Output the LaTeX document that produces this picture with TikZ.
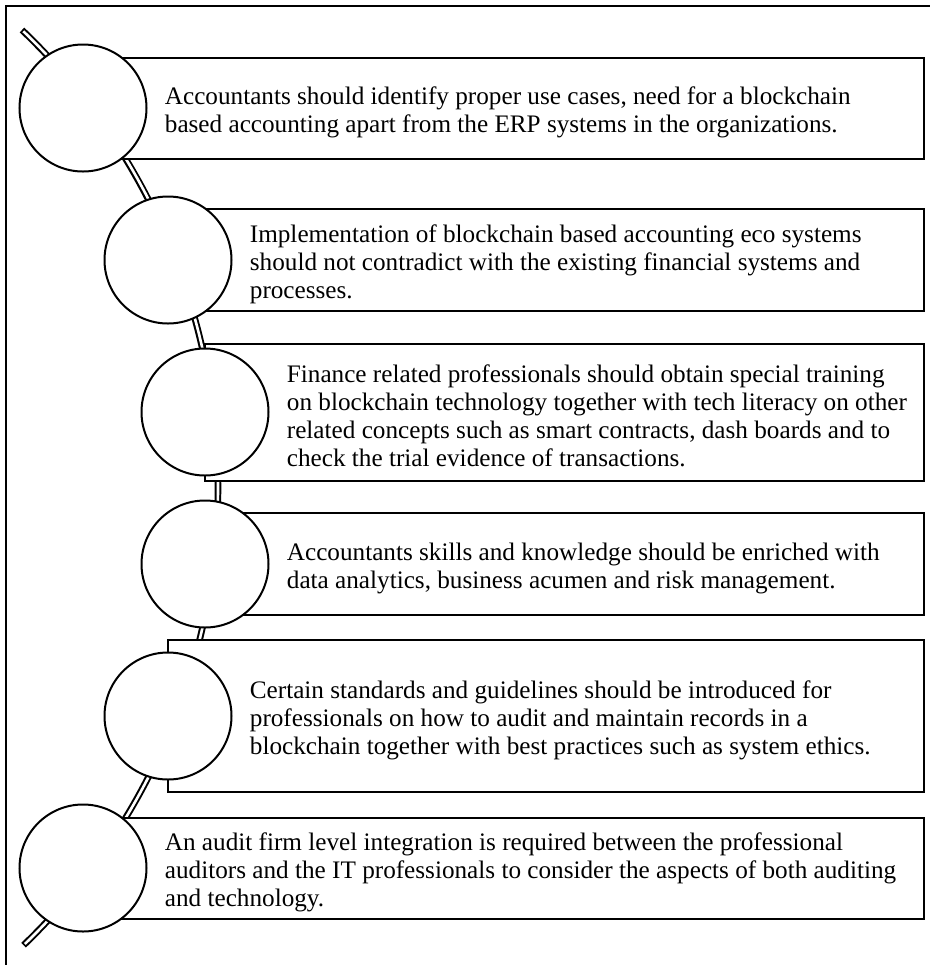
\documentclass[tikz,border=0pt]{standalone}
\usepackage{fontspec}
\setmainfont{Liberation Serif}
\usetikzlibrary{positioning, calc}
\tikzset{
  bead/.style={
    circle, draw=black, line width=1pt, fill=white,
    minimum size=63.5pt, inner sep=0pt, outer sep=0pt
  },
  panel/.style={
    rectangle, draw=black, line width=1pt, fill=white,
    anchor=west, inner sep=0pt, outer sep=0pt
  },
  note/.style={
    anchor=west, align=left, inner sep=0pt, yshift=-2pt,
    font=\fontsize{12.6pt}{14pt}\selectfont
  },
  rail/.style={line width=3.3pt, draw=black},
  railgap/.style={line width=1.3pt, draw=white, shorten <=0.9pt, shorten >=0.9pt},
}

\begin{document}
\begin{tikzpicture}[x=0.5pt, y=-0.5pt]
  \useasboundingbox (0,0) rectangle (930,965);
  \draw[line width=0.7pt] (930,6) -- (6,6) -- (6,965);

  % double rail through the beads
  \coordinate (railtop) at (22,30);
  \draw[rail] (railtop) arc[start angle=-46.3, end angle=46.1, radius=634];
  \draw[railgap] (railtop) arc[start angle=-46.3, end angle=46.1, radius=634];

  % panels behind the beads
  \node[panel, minimum width=420.5pt, minimum height=50.5pt] (b1) at (83,108) {};
  \node[panel, minimum width=378pt, minimum height=51pt] (b2) at (168,260) {};
  \node[panel, minimum width=359.5pt, minimum height=68.5pt] (b3) at (205,412) {};
  \node[panel, minimum width=359.5pt, minimum height=51pt] (b4) at (205,564) {};
  \node[panel, minimum width=378pt, minimum height=76pt] (b5) at (168,716) {};
  \node[panel, minimum width=420.5pt, minimum height=50.5pt] (b6) at (83,868) {};

  \node[bead] (c1) at (83,108) {};
  \node[bead] (c2) at (168,260) {};
  \node[bead] (c3) at (205,412) {};
  \node[bead] (c4) at (205,564) {};
  \node[bead] (c5) at (168,716) {};
  \node[bead] (c6) at (83,868) {};

  \node[note, right=9pt of c1.east, anchor=west] (t1) {Accountants should identify proper use cases, need for a blockchain\\based accounting apart from the ERP systems in the organizations.};
  \node[note, right=9pt of c2.east, anchor=west] (t2) {Implementation of blockchain based accounting eco systems\\should not contradict with the existing financial systems and\\processes.};
  \node[note, right=9pt of c3.east, anchor=west] (t3) {Finance related professionals should obtain special training\\on blockchain technology together with tech literacy on other\\related concepts such as smart contracts, dash boards and to\\check the trial evidence of transactions.};
  \node[note, right=9pt of c4.east, anchor=west] (t4) {Accountants skills and knowledge should be enriched with\\data analytics, business acumen and risk management.};
  \node[note, right=9pt of c5.east, anchor=west] (t5) {Certain standards and guidelines should be introduced for\\professionals on how to audit and maintain records in a\\blockchain together with best practices such as system ethics.};
  \node[note, right=9pt of c6.east, anchor=west] (t6) {An audit firm level integration is required between the professional\\auditors and the IT professionals to consider the aspects of both auditing\\and technology.};
\end{tikzpicture}
\end{document}
